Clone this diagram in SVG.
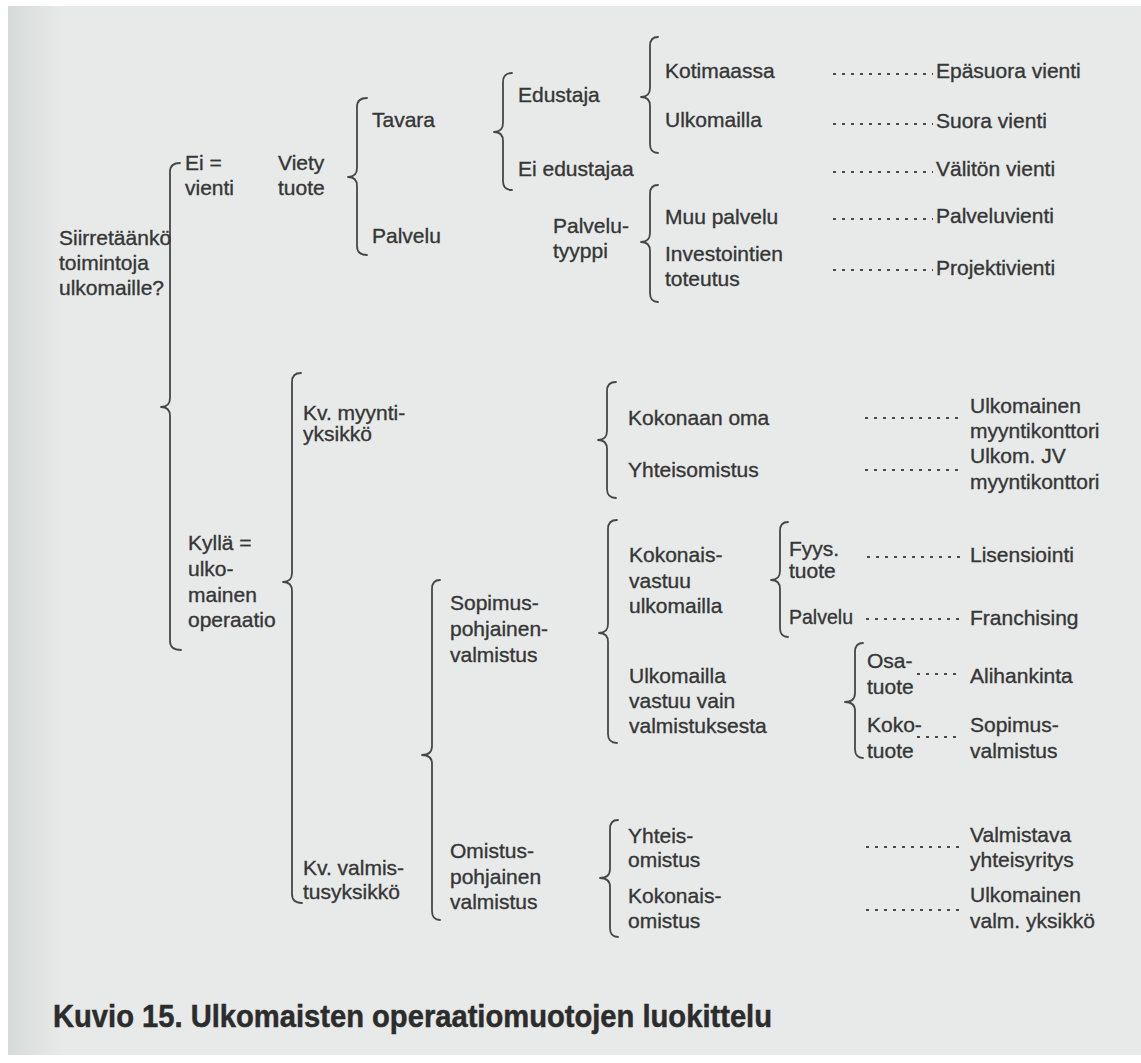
<svg xmlns="http://www.w3.org/2000/svg" width="1141" height="1063" viewBox="0 0 1141 1063">
<defs>
<linearGradient id="edge" x1="0" y1="0" x2="1" y2="0">
<stop offset="0" stop-color="#d6dad9"/>
<stop offset="1" stop-color="#e7eae9"/>
</linearGradient>
<style>
text{font-family:"Liberation Sans",Arial,sans-serif;font-size:21px;fill:#363636;stroke:#363636;stroke-width:0.35}
.t{font-weight:bold;font-size:32px;fill:#2c2c2c;stroke:#2c2c2c;stroke-width:0.5}
.br{fill:none;stroke:#474747;stroke-width:1.8;stroke-linecap:round;stroke-linejoin:round}
.dot{stroke:#4a4a4a;stroke-width:2;stroke-dasharray:3 6;fill:none}
</style>
</defs>
<rect width="1141" height="1063" fill="#ffffff"/>
<rect x="8" y="6" width="1133" height="1049" fill="#e7eae9"/>
<rect x="8" y="6" width="55" height="1049" fill="url(#edge)"/>

<g id="connectors">
<path class="br" d="M180,163 Q170,163 170,172 L170,398 Q170,407 161,407 Q170,407 170,416 L170,641 Q170,650 181,650"/>
<path class="br" d="M301,373 Q292,373 292,382 L292,573 Q292,582 283,582 Q292,582 292,591 L292,894 Q292,903 302,903"/>
<path class="br" d="M367,98 Q357,98 357,107 L357,168 Q357,177 348,177 Q357,177 357,186 L357,246 Q357,255 367,255"/>
<path class="br" d="M512,73 Q503,73 503,82 L503,123 Q503,132 494,132 Q503,132 503,141 L503,181 Q503,190 512,190"/>
<path class="br" d="M658,37 Q650,37 650,46 L650,88 Q650,97 641,97 Q650,97 650,106 L650,144 Q650,153 658,153"/>
<path class="br" d="M658,185 Q650,185 650,194 L650,233 Q650,242 641,242 Q650,242 650,251 L650,293 Q650,302 658,302"/>
<path class="br" d="M616,382 Q607,382 607,391 L607,431 Q607,440 598,440 Q607,440 607,449 L607,489 Q607,498 616,498"/>
<path class="br" d="M440,580 Q432,580 432,589 L432,746 Q432,755 422,755 Q432,755 432,764 L432,911 Q432,920 440,920"/>
<path class="br" d="M617,520 Q608,520 608,529 L608,624 Q608,633 599,633 Q608,633 608,642 L608,734 Q608,743 617,743"/>
<path class="br" d="M788,522 Q780,522 780,531 L780,571 Q780,580 771,580 Q780,580 780,589 L780,628 Q780,637 788,637"/>
<path class="br" d="M863,643 Q855,643 855,652 L855,693 Q855,702 845,702 Q855,702 855,711 L855,749 Q855,758 863,758"/>
<path class="br" d="M618,820 Q610,820 610,829 L610,869 Q610,878 600,878 Q610,878 610,887 L610,928 Q610,937 618,937"/>
<line class="dot" x1="833" y1="74" x2="933" y2="74"/>
<line class="dot" x1="833" y1="124" x2="933" y2="124"/>
<line class="dot" x1="833" y1="172" x2="933" y2="172"/>
<line class="dot" x1="833" y1="219" x2="933" y2="219"/>
<line class="dot" x1="833" y1="270" x2="933" y2="270"/>
<line class="dot" x1="865" y1="418" x2="962" y2="418"/>
<line class="dot" x1="865" y1="470" x2="962" y2="470"/>
<line class="dot" x1="867" y1="557" x2="962" y2="557"/>
<line class="dot" x1="866" y1="619" x2="962" y2="619"/>
<line class="dot" x1="917" y1="674" x2="962" y2="674"/>
<line class="dot" x1="917" y1="737" x2="962" y2="737"/>
<line class="dot" x1="866" y1="847" x2="963" y2="847"/>
<line class="dot" x1="866" y1="910" x2="963" y2="910"/>
</g>

<g id="n-root"><text x="59" y="245">Siirretäänkö</text><text x="59" y="270">toimintoja</text><text x="59" y="295">ulkomaille?</text></g>
<g id="n-ei"><text x="185" y="170">Ei =</text><text x="185" y="195">vienti</text></g>
<g id="n-viety"><text x="278" y="170">Viety</text><text x="278" y="195">tuote</text></g>
<g id="n-tavara"><text x="372" y="127">Tavara</text></g>
<g id="n-palvelu1"><text x="372" y="243">Palvelu</text></g>
<g id="n-edustaja"><text x="518" y="102">Edustaja</text></g>
<g id="n-eiedustajaa"><text x="518" y="176">Ei edustajaa</text></g>
<g id="n-kotimaassa"><text x="665" y="78">Kotimaassa</text></g>
<g id="n-ulkomailla1"><text x="665" y="127">Ulkomailla</text></g>
<g id="n-palvelutyyppi"><text x="553" y="233">Palvelu-</text><text x="553" y="258">tyyppi</text></g>
<g id="n-muupalvelu"><text x="665" y="224">Muu palvelu</text></g>
<g id="n-investointien"><text x="665" y="261">Investointien</text><text x="665" y="286">toteutus</text></g>
<g id="n-epasuora"><text x="936" y="78">Epäsuora vienti</text></g>
<g id="n-suora"><text x="936" y="128">Suora vienti</text></g>
<g id="n-valiton"><text x="936" y="176">Välitön vienti</text></g>
<g id="n-palveluvienti"><text x="936" y="223">Palveluvienti</text></g>
<g id="n-projektivienti"><text x="936" y="275">Projektivienti</text></g>

<g id="n-kylla"><text x="188" y="550">Kyllä =</text><text x="188" y="576">ulko-</text><text x="188" y="602">mainen</text><text x="188" y="627">operaatio</text></g>
<g id="n-kvmyynti"><text x="303" y="420">Kv. myynti-</text><text x="303" y="441">yksikkö</text></g>
<g id="n-kokonaanoma"><text x="628" y="425">Kokonaan oma</text></g>
<g id="n-yhteisomistus"><text x="628" y="477">Yhteisomistus</text></g>
<g id="n-ulkmyynti"><text x="970" y="413">Ulkomainen</text><text x="970" y="438">myyntikonttori</text></g>
<g id="n-ulkjv"><text x="970" y="463">Ulkom. JV</text><text x="970" y="489">myyntikonttori</text></g>
<g id="n-kvvalmis"><text x="303" y="875">Kv. valmis-</text><text x="303" y="899">tusyksikkö</text></g>
<g id="n-sopimus"><text x="450" y="610">Sopimus-</text><text x="450" y="636">pohjainen-</text><text x="450" y="662">valmistus</text></g>
<g id="n-kokonaisvastuu"><text x="629" y="562">Kokonais-</text><text x="629" y="588">vastuu</text><text x="629" y="613">ulkomailla</text></g>
<g id="n-fyys"><text x="789" y="556">Fyys.</text><text x="789" y="578">tuote</text></g>
<g id="n-palvelu2"><text x="789" y="624" textLength="64" lengthAdjust="spacingAndGlyphs">Palvelu</text></g>
<g id="n-lisensiointi"><text x="970" y="562">Lisensiointi</text></g>
<g id="n-franchising"><text x="970" y="625">Franchising</text></g>
<g id="n-ulkvastuu"><text x="629" y="683">Ulkomailla</text><text x="629" y="708">vastuu vain</text><text x="629" y="733">valmistuksesta</text></g>
<g id="n-osatuote"><text x="867" y="668">Osa-</text><text x="867" y="694">tuote</text></g>
<g id="n-alihankinta"><text x="970" y="683">Alihankinta</text></g>
<g id="n-kokotuote"><text x="867" y="732">Koko-</text><text x="867" y="758">tuote</text></g>
<g id="n-sopimusvalm"><text x="970" y="732">Sopimus-</text><text x="970" y="758">valmistus</text></g>
<g id="n-omistus"><text x="450" y="858">Omistus-</text><text x="450" y="884">pohjainen</text><text x="450" y="909">valmistus</text></g>
<g id="n-yhteisomistus2"><text x="628" y="843">Yhteis-</text><text x="628" y="867">omistus</text></g>
<g id="n-kokonaisomistus"><text x="628" y="903">Kokonais-</text><text x="628" y="928">omistus</text></g>
<g id="n-valmistava"><text x="970" y="842">Valmistava</text><text x="970" y="867">yhteisyritys</text></g>
<g id="n-ulkvalm"><text x="970" y="902">Ulkomainen</text><text x="970" y="928">valm. yksikkö</text></g>

<g id="caption"><text class="t" x="53" y="1027" textLength="719" lengthAdjust="spacingAndGlyphs">Kuvio 15. Ulkomaisten operaatiomuotojen luokittelu</text></g>
</svg>
